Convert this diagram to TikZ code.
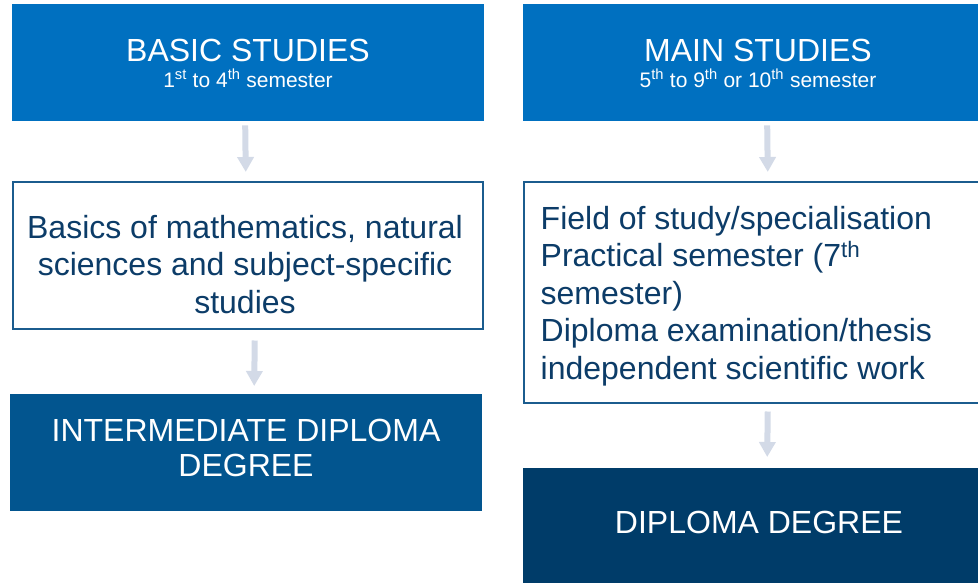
\documentclass[tikz,border=0pt]{standalone}
\usepackage{fontspec}
\setmainfont{Liberation Sans}
\usetikzlibrary{arrows.meta,calc}
\definecolor{topblue}{HTML}{0070C0}
\definecolor{midblue}{HTML}{02558F}
\definecolor{darkblue}{HTML}{003C69}
\definecolor{bordblue}{HTML}{1B5C8E}
\definecolor{txtblue}{HTML}{0C3C68}
\definecolor{arrgray}{HTML}{D3DAE7}
\tikzset{
  fillbox/.style={rectangle, inner sep=0pt, anchor=north west, draw=none},
  whitebox/.style={rectangle, inner sep=0pt, anchor=north west, draw=bordblue, line width=1.5pt, fill=white},
  titletxt/.style={text=white, font=\fontsize{32}{34.3}\selectfont, inner sep=0pt, align=center},
  subtxt/.style={text=white, font=\fontsize{21}{24}\selectfont, inner sep=0pt},
  bodytxt/.style={text=txtblue, font=\fontsize{32}{37.5}\selectfont, inner sep=0pt},
  fatarrow/.style={draw=arrgray, line width=6pt, -{Triangle[width=16pt,length=15pt]}}
}
\begin{document}
\begin{tikzpicture}[x=1pt,y=-1pt]
\useasboundingbox (0,0) rectangle (978,582);
\clip (0,0) rectangle (978,582);
% boxes
\node[fillbox, fill=topblue, minimum width=472pt, minimum height=117pt] (basic) at (12,4) {};
\node[fillbox, fill=topblue, minimum width=467pt, minimum height=117pt] (main) at (523,4) {};
\node[whitebox, minimum width=470pt, minimum height=147pt] (body1) at (12,181) {};
\node[whitebox, minimum width=467pt, minimum height=221pt] (body2) at (523,181) {};
\node[fillbox, fill=midblue, minimum width=472pt, minimum height=117pt] (inter) at (10,394) {};
\node[fillbox, fill=darkblue, minimum width=467pt, minimum height=122pt] (diploma) at (523,468) {};
% texts
\node[titletxt, anchor=base] (basict) at (248,61.7) {BASIC STUDIES};
\node[subtxt, anchor=base] (basics) at (248,87.3) {1\textsuperscript{st} to 4\textsuperscript{th} semester};
\node[titletxt, anchor=base] (maint) at (758,61.7) {MAIN STUDIES};
\node[subtxt, anchor=base] (mains) at (758,87.3) {5\textsuperscript{th} to 9\textsuperscript{th} or 10\textsuperscript{th} semester};
\node[bodytxt, anchor=base, align=center] (body1t) at (245,313.3) {Basics of mathematics, natural\\sciences and subject-specific\\studies};
\node[bodytxt, anchor=base west, align=left] (body2t) at (540.5,379) {Field of study/specialisation\\Practical semester (7\textsuperscript{th}\\semester)\\Diploma examination/thesis\\independent scientific work};
\node[titletxt, anchor=base] (intert) at (246,476) {INTERMEDIATE DIPLOMA\\DEGREE};
\node[titletxt, anchor=base] (diplomat) at (759,533.3) {DIPLOMA DEGREE};
% arrows
\draw[fatarrow] ($(basic.south)+(-3,4)$) -- ($(body1.north)+(-2,-9)$);
\draw[fatarrow] ($(body1.south)+(7,11)$) -- ($(inter.north)+(8,-8)$);
\draw[fatarrow] ($(main.south)+(10.5,4)$) -- ($(body2.north)+(10.5,-9)$);
\draw[fatarrow] ($(body2.south)+(10.5,8)$) -- ($(diploma.north)+(10.5,-11)$);
\end{tikzpicture}
\end{document}
